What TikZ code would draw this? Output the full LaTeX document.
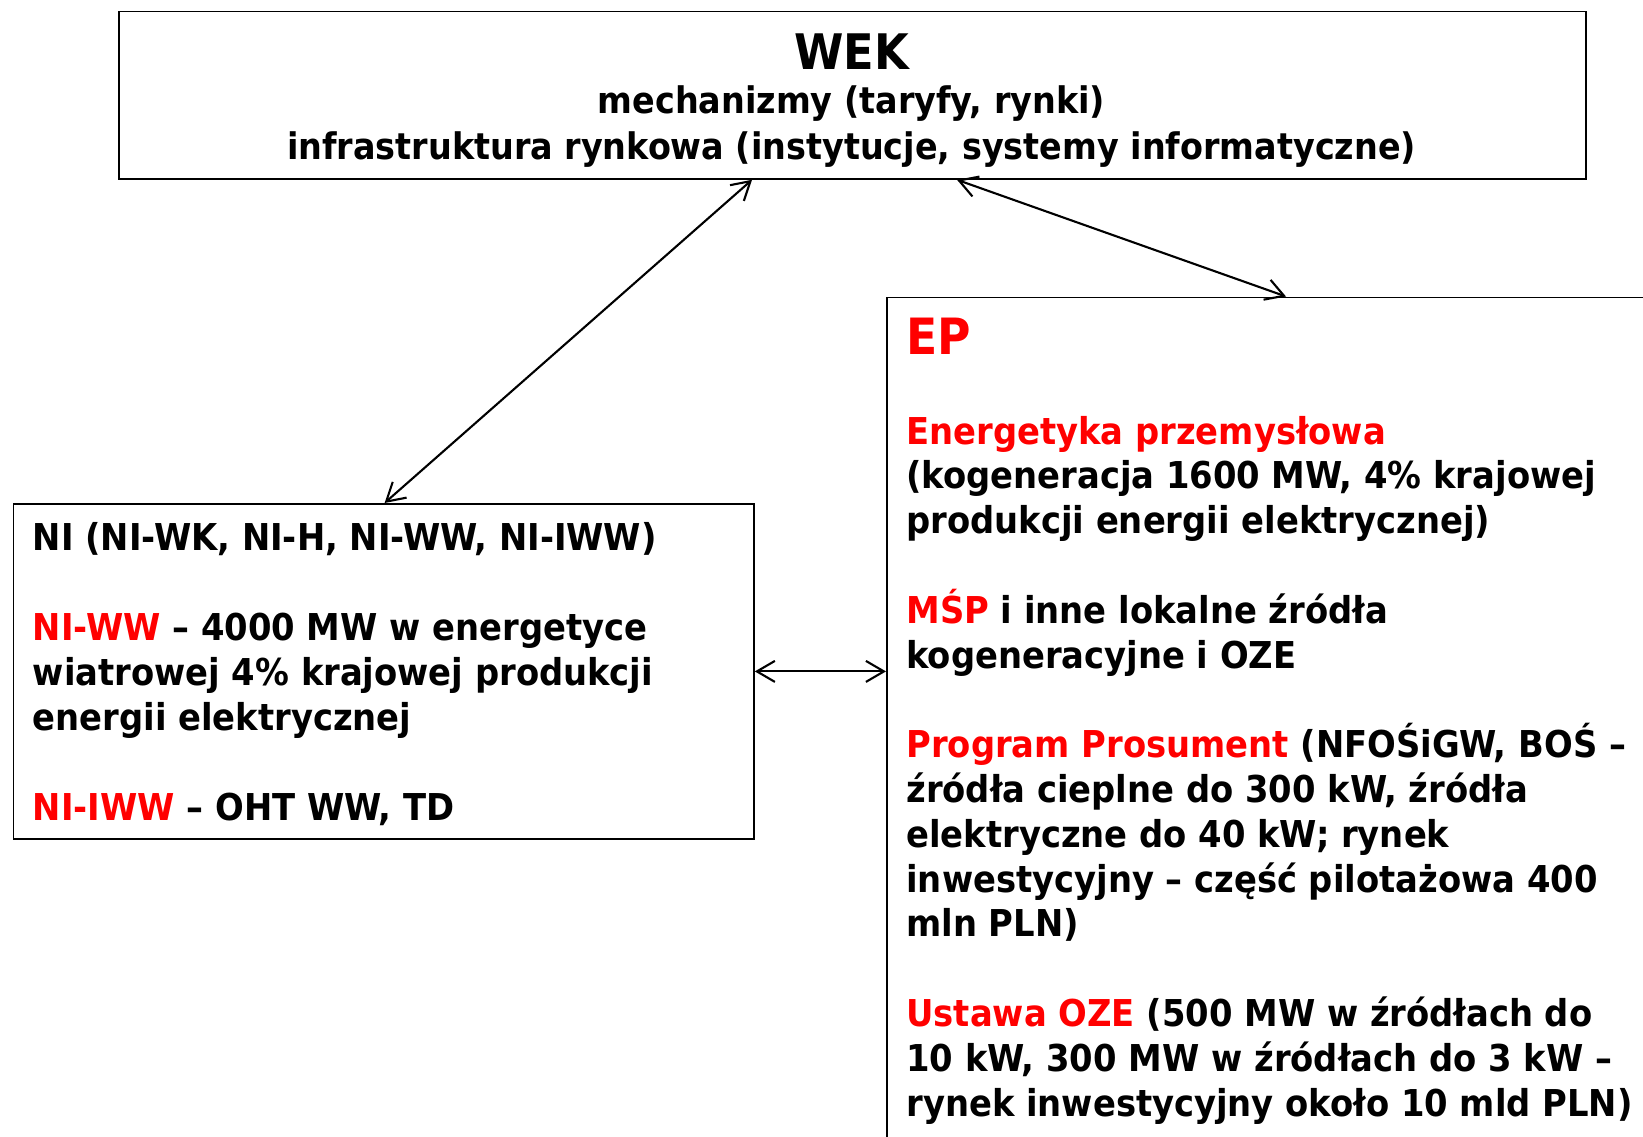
\documentclass[tikz,border=0pt]{standalone}
\usepackage{fontspec}
\setmainfont{DejaVu Sans Condensed}[FakeStretch=1.015]
\usetikzlibrary{arrows.meta}
\definecolor{epred}{RGB}{255,0,0}
\begin{document}
\begin{tikzpicture}[x=0.5pt,y=-0.5pt,
  box/.style={draw=black, line width=0.9pt, rectangle, inner sep=0pt, anchor=north west},
  body/.style={font=\fontsize{18.5}{22.4}\selectfont\bfseries, align=left, anchor=base west, inner sep=0pt},
  ttl/.style={font=\fontsize{24.5}{28}\selectfont\bfseries, inner sep=0pt, anchor=base},
  link/.style={line width=1.05pt, {Straight Barb[length=9pt,width=10.5pt]}-{Straight Barb[length=9pt,width=10.5pt]}}]
\clip (0,0) rectangle (1643,1136);
\fill[white] (0,0) rectangle (1643,1136);
% boxes
\node[box, minimum width=733.5pt, minimum height=83.75pt] (wek) at (118,10.5) {};
\node[box, minimum width=370.2pt, minimum height=167.5pt] (ni) at (12.6,503) {};
\node[box, minimum width=407pt, minimum height=451.75pt] (ep) at (886,296.5) {};
% WEK texts (anchor base = baseline of last line)
\node[ttl] (wekt) at (851.5,69) {WEK};
\node[body, anchor=base, align=center, font=\fontsize{18.3}{23}\selectfont\bfseries] (wekb) at (851.5,159)
  {mechanizmy (taryfy, rynki)\\infrastruktura rynkowa (instytucje, systemy informatyczne)};
% NI texts
\node[body, font=\fontsize{18.5}{22.5}\selectfont\bfseries] (nib) at (32.5,820)
  {NI (NI-WK, NI-H, NI-WW, NI-IWW)\\[22.5pt]
   \textcolor{epred}{NI-WW} – 4000 MW w energetyce\\
   wiatrowej 4\% krajowej produkcji\\
   energii elektrycznej\\[22.5pt]
   \textcolor{epred}{NI-IWW} – OHT WW, TD};
% EP texts
\node[ttl, anchor=base west, text=epred, font=\fontsize{25}{30}\selectfont\bfseries] (ept) at (906,354) {EP};
\node[body] (epb) at (906,1116)
  {\textcolor{epred}{Energetyka przemysłowa}\\
   (kogeneracja 1600 MW, 4\% krajowej\\
   produkcji energii elektrycznej)\\[22.4pt]
   \textcolor{epred}{MŚP} i inne lokalne źródła\\
   kogeneracyjne i OZE\\[22.4pt]
   \textcolor{epred}{Program Prosument} (NFOŚiGW, BOŚ –\\
   źródła cieplne do 300 kW, źródła\\
   elektryczne do 40 kW; rynek\\
   inwestycyjny – część pilotażowa 400\\
   mln PLN)\\[22.4pt]
   \textcolor{epred}{Ustawa OZE} (500 MW w źródłach do\\
   10 kW, 300 MW w źródłach do 3 kW –\\
   rynek inwestycyjny około 10 mld PLN)};
% connectors
\draw[link] ([xshift=317pt]wek.south west) -- ([xshift=186pt]ni.north west);
\draw[link] ([xshift=419.5pt]wek.south west) -- ([xshift=200pt]ep.north west);
\draw[link] (ni.east) -- (ep.west |- ni.east);
\end{tikzpicture}
\end{document}
